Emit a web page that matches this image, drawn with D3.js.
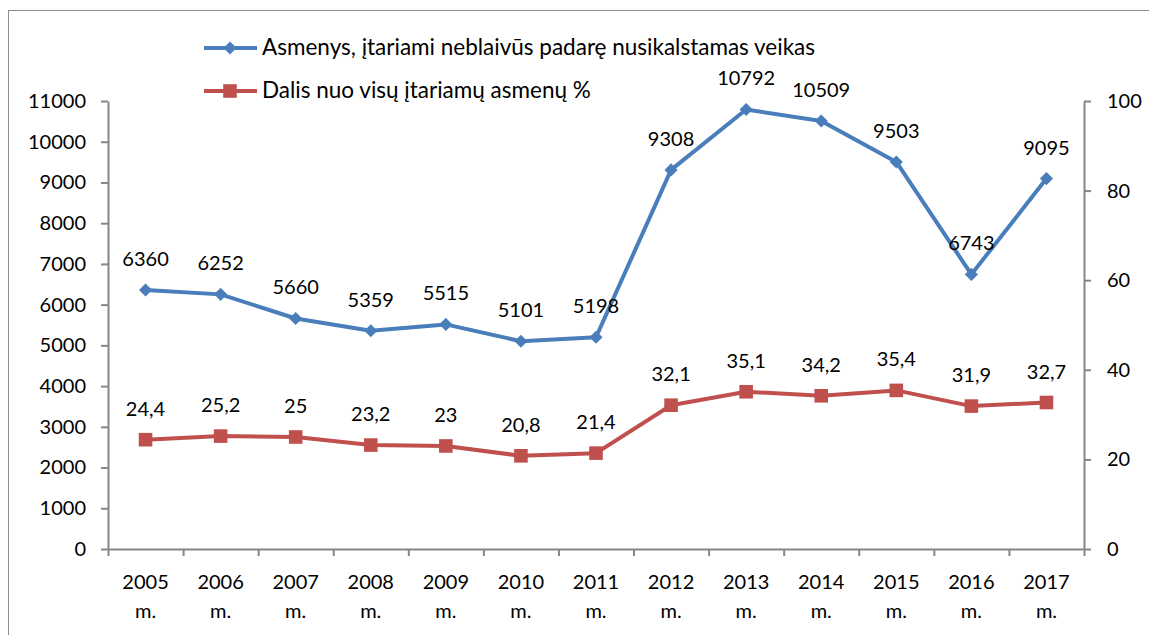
<!DOCTYPE html>
<html>
<head>
<meta charset="utf-8">
<script src="https://cdn.jsdelivr.net/npm/d3@7"></script>
<style>
  body { margin: 0; background: #fff; }
  text { font-family: Lato, "Open Sans", sans-serif; fill: #000; }
</style>
</head>
<body>
<div id="chart"></div>
<script>
const years = ["2005", "2006", "2007", "2008", "2009", "2010", "2011",
               "2012", "2013", "2014", "2015", "2016", "2017"];
const persons = [6360, 6252, 5660, 5359, 5515, 5101, 5198, 9308, 10792, 10509, 9503, 6743, 9095];
const share = [24.4, 25.2, 25, 23.2, 23, 20.8, 21.4, 32.1, 35.1, 34.2, 35.4, 31.9, 32.7];
const leftTicks = [0, 1000, 2000, 3000, 4000, 5000, 6000, 7000, 8000, 9000, 10000, 11000];
const rightTicks = [0, 20, 40, 60, 80, 100];
const seriesNames = ["Asmenys, įtariami neblaivūs padarę nusikalstamas veikas",
                     "Dalis nuo visų įtariamų asmenų %"];

const BLUE = "#4a7ebb", RED = "#c0504d", AXIS = "#868686";

const W = 1149, H = 635;
const margin = { top: 101, right: 65, bottom: 86, left: 108 },
      width = W - margin.left - margin.right,
      height = H - margin.top - margin.bottom;

const svg = d3.select("#chart").append("svg")
    .attr("width", W)
    .attr("height", H);

// outer frame (runs off the right and bottom edge)
svg.append("rect")
    .attr("x", 8.5).attr("y", 10.5)
    .attr("width", W + 20).attr("height", H + 20)
    .attr("fill", "none")
    .attr("stroke", "#8c8c8c");

const g = svg.append("g")
    .attr("transform", `translate(${margin.left},${margin.top})`);

const x = d3.scaleBand().domain(years).range([0, width]);
const xEdge = d3.scaleLinear().domain([0, years.length]).range([0, width]);
const yL = d3.scaleLinear().domain([0, 11000]).range([height, 0]);
const yR = d3.scaleLinear().domain([0, 100]).range([height, 0]);
const cx = d => x(d) + x.bandwidth() / 2;

function styleAxis(sel) {
    sel.select(".domain").attr("stroke", AXIS).attr("stroke-width", 2);
    sel.selectAll(".tick line").attr("stroke", AXIS).attr("stroke-width", 2);
    sel.selectAll("text").attr("font-size", "20px").attr("fill", "#000");
}

// left axis
g.append("g")
    .call(d3.axisLeft(yL).tickValues(leftTicks).tickFormat(d3.format("d"))
        .tickSize(7).tickPadding(15).tickSizeOuter(0))
    .call(styleAxis);

// right axis
g.append("g")
    .attr("transform", `translate(${width},0)`)
    .call(d3.axisRight(yR).tickValues(rightTicks).tickFormat(d3.format("d"))
        .tickSize(7).tickPadding(16).tickSizeOuter(0))
    .call(styleAxis);

// x axis: tick marks on the category borders
g.append("g")
    .attr("transform", `translate(0,${height})`)
    .call(d3.axisBottom(xEdge).tickValues(d3.range(years.length + 1)).tickSize(7).tickFormat("").tickSizeOuter(0))
    .call(styleAxis);

// x labels, two lines each
const xl = g.append("g")
    .selectAll("text")
    .data(years)
    .join("text")
    .attr("text-anchor", "middle")
    .attr("font-size", "20px")
    .attr("x", d => cx(d))
    .attr("y", height + 40);
xl.append("tspan").attr("x", d => cx(d)).text(d => d);
xl.append("tspan").attr("x", d => cx(d)).attr("dy", 29).text("m.");

const diamond = d3.symbol().type(d3.symbolDiamond2).size(110);
const square = d3.symbol().type(d3.symbolSquare).size(185);

function drawSeries(values, yScale, color, shape, fmt) {
    const pts = values.map((v, i) => ({ year: years[i], v }));
    g.append("path")
        .datum(pts)
        .attr("fill", "none")
        .attr("stroke", color)
        .attr("stroke-width", 4)
        .attr("stroke-linejoin", "round")
        .attr("d", d3.line().x(d => cx(d.year)).y(d => yScale(d.v)));
    g.append("g")
        .selectAll("path")
        .data(pts)
        .join("path")
        .attr("d", shape)
        .attr("fill", color)
        .attr("transform", d => `translate(${cx(d.year)},${yScale(d.v)})`);
    g.append("g")
        .selectAll("text")
        .data(pts)
        .join("text")
        .attr("text-anchor", "middle")
        .attr("font-size", "20px")
        .attr("x", d => cx(d.year))
        .attr("y", d => yScale(d.v) - 24)
        .text(d => fmt(d.v));
}

drawSeries(persons, yL, BLUE, diamond, d => d);
drawSeries(share, yR, RED, square, d => String(d).replace(".", ","));

// legend
const legend = svg.append("g");
const legendRows = [
    { name: seriesNames[0], color: BLUE, shape: diamond, y: 48 },
    { name: seriesNames[1], color: RED, shape: square, y: 91 }
];
legendRows.forEach(r => {
    legend.append("line")
        .attr("x1", 204).attr("x2", 257)
        .attr("y1", r.y).attr("y2", r.y)
        .attr("stroke", r.color).attr("stroke-width", 4);
    legend.append("path")
        .attr("d", r.shape)
        .attr("fill", r.color)
        .attr("transform", `translate(230,${r.y})`);
    legend.append("text")
        .attr("x", 262).attr("y", r.y + 7)
        .attr("font-size", "22.5px")
        .text(r.name);
});
</script>
</body>
</html>
